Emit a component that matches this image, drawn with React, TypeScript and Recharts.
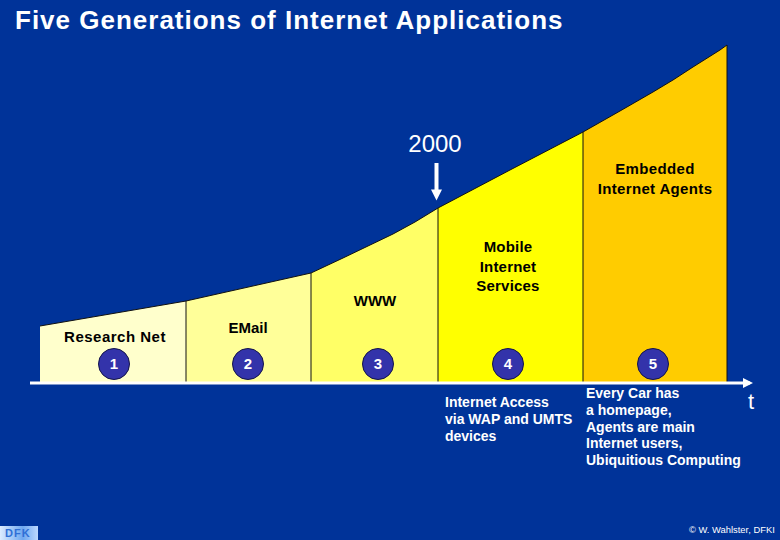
import { Area, ComposedChart, ReferenceDot, ReferenceLine, XAxis, YAxis } from "recharts";

const BG = "#003399";

// x = time along the arrow, y = height above it (both, in px units)
const times = [10, 156, 281, 313, 338, 363, 385, 408, 480, 553, 590, 623, 643, 663, 690, 697];
const researchNet = [57, 82, null, null, null, null, null, null, null, null, null, null, null, null, null, null];
const email = [null, 82, 110, null, null, null, null, null, null, null, null, null, null, null, null, null];
const www = [null, null, 110, 125, 137, 149, 161, 175, null, null, null, null, null, null, null, null];
const mobile = [null, null, null, null, null, null, null, 175, 213, 251, null, null, null, null, null, null];
const agents = [null, null, null, null, null, null, null, null, null, 251, 272, 291, 303, 316, 333, 338];

const seriesNames = ["researchNet", "email", "www", "mobile", "agents"];
const seriesValues = [researchNet, email, www, mobile, agents];
const seriesColors = ["#ffffcc", "#ffff99", "#ffff66", "#ffff00", "#ffcc00"];

const dividerTimes = [156, 281, 408, 553, 697];
const dividerHeights = [82, 110, 175, 251, 338];
const phaseTimes = [84, 218, 348, 478, 623];
const phaseNumbers = ["1", "2", "3", "4", "5"];

const data = times.map((t, i) => {
  const row: Record<string, number | null> = { t };
  seriesNames.forEach((name, s) => {
    row[name] = seriesValues[s][i];
  });
  return row;
});

const sans = "'Liberation Sans', Arial, sans-serif";

function Note({
  x,
  y,
  w,
  size = 15,
  color = "#000",
  align = "center",
  bold = true,
  lh,
  spacing = 0,
  children,
}: {
  x: number;
  y: number;
  w: number;
  size?: number;
  color?: string;
  align?: "center" | "left";
  bold?: boolean;
  lh?: number;
  spacing?: number;
  children: React.ReactNode;
}) {
  return (
    <div
      style={{
        position: "absolute",
        left: x,
        top: y,
        width: w,
        fontFamily: sans,
        fontSize: size,
        fontWeight: bold ? 700 : 400,
        color,
        textAlign: align,
        letterSpacing: spacing,
        lineHeight: lh ? `${lh}px` : "normal",
        whiteSpace: "pre-line",
      }}
    >
      {children}
    </div>
  );
}

function triangle(dx: number, dy: number, pointing: "right" | "down") {
  return (props: any) => {
    const { cx, cy } = props;
    const pts =
      pointing === "right"
        ? `${cx - dx},${cy - dy} ${cx + dx},${cy} ${cx - dx},${cy + dy}`
        : `${cx - dx},${cy - dy} ${cx + dx},${cy - dy} ${cx},${cy + dy}`;
    return <polygon points={pts} fill="#fff" />;
  };
}

export default function App() {
  return (
    <div
      style={{
        position: "absolute",
        left: 0,
        top: 0,
        width: 780,
        height: 540,
        background: BG,
        overflow: "hidden",
      }}
    >
      <ComposedChart
        width={780}
        height={540}
        data={data}
        margin={{ top: 0, right: 30, bottom: 156, left: 30 }}
      >
        <XAxis
          dataKey="t"
          type="number"
          domain={[0, 720]}
          height={1}
          tick={false}
          tickLine={false}
          axisLine={{ stroke: "#fff", strokeWidth: 3 }}
        />
        <YAxis type="number" domain={[0, 383]} hide />
        {seriesNames.map((name, s) => (
          <Area
            key={name}
            dataKey={name}
            type="linear"
            fill={seriesColors[s]}
            fillOpacity={1}
            stroke="#111"
            strokeWidth={1}
            dot={false}
            activeDot={false}
            isAnimationActive={false}
          />
        ))}
        {dividerTimes.map((t, i) => (
          <ReferenceLine
            key={t}
            segment={[
              { x: t, y: 0 },
              { x: t, y: dividerHeights[i] },
            ]}
            stroke="#111"
            strokeWidth={1}
          />
        ))}
        {phaseTimes.map((t, i) => (
          <ReferenceDot
            key={t}
            x={t}
            y={19}
            r={15.5}
            fill="#3333aa"
            stroke="#14144a"
            strokeWidth={1}
            label={{
              value: phaseNumbers[i],
              position: "center",
              fill: "#fff",
              fontSize: 15,
              fontWeight: 700,
              fontFamily: sans,
            }}
          />
        ))}
        <ReferenceLine
          segment={[
            { x: 406.5, y: 220 },
            { x: 406.5, y: 192 },
          ]}
          stroke="#fff"
          strokeWidth={4}
        />
        <ReferenceDot x={406.5} y={188} shape={triangle(5.5, 5.5, "down")} />
        <ReferenceDot x={718} y={0} shape={triangle(5, 5, "right")} />
      </ComposedChart>

      <Note x={15} y={5} w={640} size={26} color="#fff" align="left" spacing={1}>
        Five Generations of Internet Applications
      </Note>
      <Note x={385} y={130} w={100} size={24} color="#fff" bold={false}>
        2000
      </Note>
      <Note x={560} y={159} w={190} lh={19.5} spacing={0.35}>
        {"Embedded\nInternet Agents"}
      </Note>
      <Note x={440} y={237} w={136} lh={19.5} spacing={0.2}>
        {"Mobile\nInternet\nServices"}
      </Note>
      <Note x={330} y={292} w={90}>
        WWW
      </Note>
      <Note x={198} y={319} w={100}>
        EMail
      </Note>
      <Note x={45} y={328} w={140} spacing={0.5}>
        Research Net
      </Note>
      <Note x={445} y={394} w={140} size={14} color="#fff" align="left" lh={17}>
        {"Internet Access\nvia WAP and UMTS\ndevices"}
      </Note>
      <Note x={586} y={385} w={170} size={14} color="#fff" align="left" lh={16.8}>
        {"Every Car has\na homepage,\nAgents are main\nInternet users,\nUbiquitious Computing"}
      </Note>
      <Note x={741} y={389} w={20} size={22} color="#fff" bold={false}>
        t
      </Note>
      <Note x={689} y={524} w={90} size={9.4} color="#fff" align="left" bold={false}>
        © W. Wahlster, DFKI
      </Note>

      <div
        style={{
          position: "absolute",
          left: 0,
          top: 526,
          width: 38,
          height: 14,
          background: "linear-gradient(90deg, #dcecff, #6fa8f0 60%, #bcd8ff)",
          overflow: "hidden",
        }}
      >
        <span
          style={{
            position: "absolute",
            left: 5,
            top: 0,
            fontFamily: sans,
            fontSize: 11,
            lineHeight: "14px",
            fontWeight: 700,
            letterSpacing: 1,
            color: "#2f6fd6",
          }}
        >
          DFK
        </span>
      </div>
    </div>
  );
}
